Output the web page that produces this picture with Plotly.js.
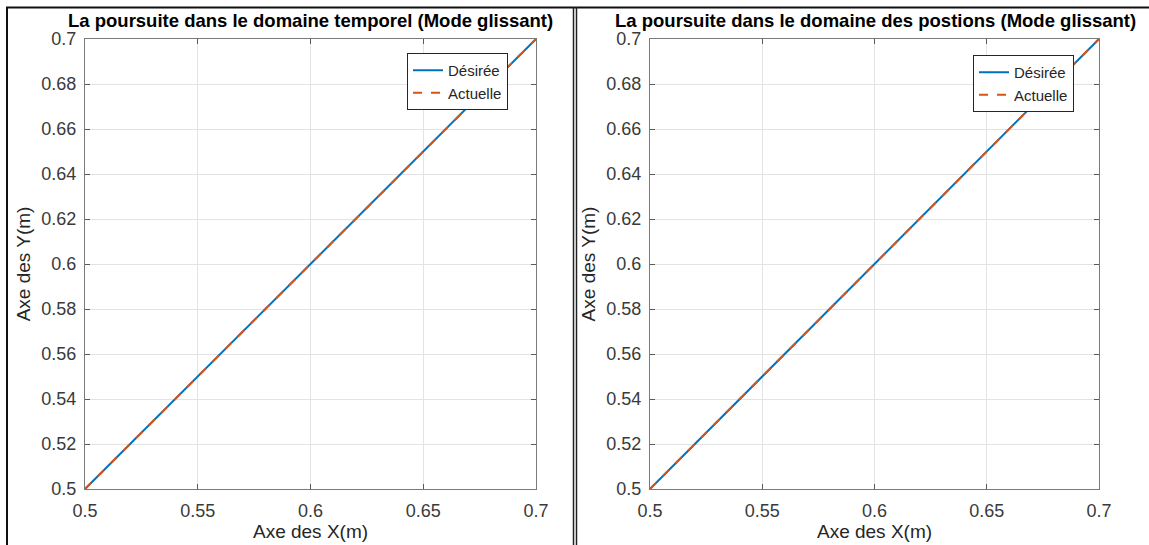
<!DOCTYPE html>
<html>
<head>
<meta charset="utf-8">
<script src="https://cdn.plot.ly/plotly-3.0.1.min.js"></script>
<style>html,body{margin:0;padding:0;background:#fff;}#chart{width:1149px;height:545px;}</style>
</head>
<body>
<div id="chart"></div>
<script>
// Data
const xDesTemp = [0.5, 0.55, 0.6, 0.65, 0.7];
const yDesTemp = [0.5, 0.55, 0.6, 0.65, 0.7];
const xActTemp = [0.5, 0.55, 0.6, 0.65, 0.7];
const yActTemp = [0.5, 0.55, 0.6, 0.65, 0.7];
const xDesPos = [0.5, 0.55, 0.6, 0.65, 0.7];
const yDesPos = [0.5, 0.55, 0.6, 0.65, 0.7];
const xActPos = [0.5, 0.55, 0.6, 0.65, 0.7];
const yActPos = [0.5, 0.55, 0.6, 0.65, 0.7];
const seriesNames = ["Désirée", "Actuelle"];
const titles = ["La poursuite dans le domaine temporel (Mode glissant)",
                "La poursuite dans le domaine des postions (Mode glissant)"];
const xLabel = "Axe des X(m)";
const yLabel = "Axe des Y(m)";

const W = 1149, H = 545;
const px = v => v / W;
const py = v => 1 - v / H;
const FONT = "Liberation Sans, Arial, sans-serif";
const blue = "#0072BD", orange = "#D95319";

const traces = [
  {x: xDesTemp, y: yDesTemp, name: seriesNames[0], mode: "lines", line: {color: blue, width: 2}, xaxis: "x", yaxis: "y", legend: "legend"},
  {x: xActTemp, y: yActTemp, name: seriesNames[1], mode: "lines", line: {color: orange, width: 2, dash: "dash"}, xaxis: "x", yaxis: "y", legend: "legend"},
  {x: xDesPos, y: yDesPos, name: seriesNames[0], mode: "lines", line: {color: blue, width: 2}, xaxis: "x2", yaxis: "y2", legend: "legend2"},
  {x: xActPos, y: yActPos, name: seriesNames[1], mode: "lines", line: {color: orange, width: 2, dash: "dash"}, xaxis: "x2", yaxis: "y2", legend: "legend2"}
];

function xax(domain, anchor) {
  return {
    domain: domain, anchor: anchor, range: [0.5, 0.7], tick0: 0.5, dtick: 0.05,
    showgrid: true, gridcolor: "#e3e3e3", gridwidth: 1, zeroline: false,
    showline: true, linecolor: "#7a7a7a", linewidth: 1, mirror: "ticks",
    ticks: "inside", ticklen: 5, tickcolor: "#5a5a5a",
    ticklabelstandoff: 5,
    tickfont: {family: FONT, size: 18, color: "#3a3a3a"},
    title: {text: xLabel, font: {family: FONT, size: 19, color: "#262626"}, standoff: 4},
    automargin: false, fixedrange: true
  };
}
function yax(domain, anchor) {
  return {
    domain: domain, anchor: anchor, range: [0.5, 0.7], tick0: 0.5, dtick: 0.02,
    showgrid: true, gridcolor: "#e3e3e3", gridwidth: 1, zeroline: false,
    showline: true, linecolor: "#7a7a7a", linewidth: 1, mirror: "ticks",
    ticks: "inside", ticklen: 5, tickcolor: "#5a5a5a",
    ticklabelstandoff: 4,
    tickfont: {family: FONT, size: 18, color: "#3a3a3a"},
    title: {text: yLabel, font: {family: FONT, size: 19, color: "#262626"}, standoff: 5},
    automargin: false, fixedrange: true
  };
}

const yDom = [py(489), py(39)];
const legendCommon = {
  bgcolor: "#ffffff", bordercolor: "#262626", borderwidth: 1,
  font: {family: FONT, size: 15, color: "#262626"},
  xref: "paper", yref: "paper", xanchor: "left", yanchor: "top",
  tracegroupgap: 0, itemwidth: 30
};

const layout = {
  width: W, height: H,
  margin: {l: 0, r: 0, t: 0, b: 0},
  paper_bgcolor: "#ffffff", plot_bgcolor: "#ffffff",
  showlegend: true,
  xaxis: xax([px(85), px(536)], "y"),
  yaxis: yax(yDom, "x"),
  xaxis2: xax([px(650), px(1099)], "y2"),
  yaxis2: yax(yDom, "x2"),
  legend: Object.assign({}, legendCommon, {x: px(407), y: py(53)}),
  legend2: Object.assign({}, legendCommon, {x: px(973), y: py(55)}),
  annotations: [
    {text: "<b>" + titles[0] + "</b>", xref: "paper", yref: "paper", x: px(310), y: py(20), xanchor: "center", yanchor: "middle", showarrow: false, font: {family: FONT, size: 18.5, color: "#000"}},
    {text: "<b>" + titles[1] + "</b>", xref: "paper", yref: "paper", x: px(875), y: py(20), xanchor: "center", yanchor: "middle", showarrow: false, font: {family: FONT, size: 18.5, color: "#000"}}
  ],
  shapes: [
    {type: "line", xref: "paper", yref: "paper", x0: px(6), x1: 1, y0: py(7.5), y1: py(7.5), line: {color: "#111", width: 2}},
    {type: "line", xref: "paper", yref: "paper", x0: px(7), x1: px(7), y0: py(7), y1: 0, line: {color: "#111", width: 2}},
    {type: "line", xref: "paper", yref: "paper", x0: px(573.5), x1: px(573.5), y0: py(7), y1: 0, line: {color: "#222", width: 1.5}},
    {type: "line", xref: "paper", yref: "paper", x0: px(576.5), x1: px(576.5), y0: py(7), y1: 0, line: {color: "#222", width: 1.5}}
  ]
};

Plotly.newPlot("chart", traces, layout, {staticPlot: true, displayModeBar: false});
</script>
</body>
</html>
